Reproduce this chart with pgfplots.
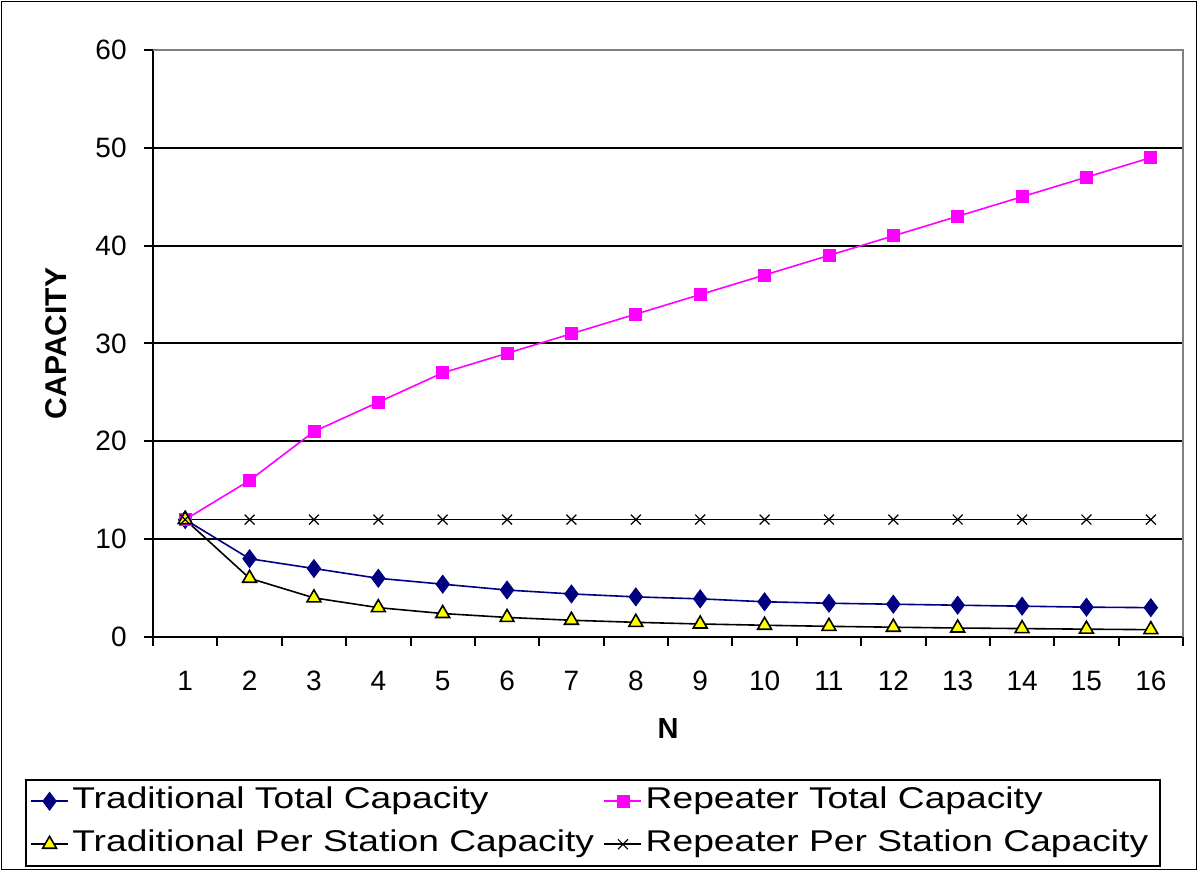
\documentclass[border=0pt]{standalone}
\usepackage{fontspec}
\setmainfont{Liberation Sans}
\newfontfamily\legfont{Liberation Sans}[FakeStretch=1.24]
\usepackage{pgfplots}
\usepackage{pgfplotstable}
\pgfplotsset{compat=1.18}
\definecolor{xnavy}{RGB}{0,0,128}
\definecolor{xmag}{RGB}{255,0,255}
\definecolor{xyel}{RGB}{255,255,0}
\definecolor{xgray}{RGB}{128,128,128}
\pgfplotstableread{
N TT RT TP RP
1 12 12 12 12
2 8 16 6 12
3 7 21 4 12
4 6 24 3 12
5 5.4 27 2.4 12
6 4.8 29 2 12
7 4.4 31 1.71 12
8 4.1 33 1.5 12
9 3.9 35 1.33 12
10 3.6 37 1.2 12
11 3.45 39 1.09 12
12 3.35 41 1 12
13 3.25 43 0.92 12
14 3.15 45 0.86 12
15 3.05 47 0.8 12
16 3.0 49 0.75 12
}\datatable
\begin{document}
\begin{tikzpicture}
\useasboundingbox (-76.5pt,-117pt) rectangle (522.5pt,318.5pt);
\draw[black, line width=0.8pt] (-75.8pt,-116.3pt) rectangle (521.8pt,317.8pt);
\begin{axis}[
  scale only axis,
  width=515pt, height=293.5pt,
  at={(0pt,0pt)}, anchor=origin,
  xmin=0.5, xmax=16.5, ymin=0, ymax=60,
  axis x line*=bottom, axis y line*=left,
  axis line style={black, line width=1pt},
  tick align=outside,
  xtick={0.5,1.5,...,16.5},
  xticklabels={},
  x tick style={black, line width=1pt},
  extra x ticks={1,2,...,16},
  extra x tick style={major tick length=0pt},
  ytick={0,10,...,60},
  y tick style={black, line width=1pt},
  major tick length=4.5pt,
  extra y ticks={10,20,30,40,50},
  extra y tick labels={},
  extra y tick style={grid=major, major grid style={black, line width=1pt}, major tick length=0pt},
  /pgf/number format/assume math mode=true,
  tick label style={font=\fontsize{14}{16}\selectfont},
  yticklabel style={inner sep=0pt, xshift=-8.5pt},
  xticklabel style={inner sep=0pt, yshift=-17pt},
  xlabel={\textbf{N}},
  ylabel={\textbf{CAPACITY}},
  every axis x label/.style={at={(axis description cs:0.5,-0.1567)}, anchor=center, font=\fontsize{14.5}{16}\selectfont},
  every axis y label/.style={at={(axis description cs:-0.0942,0.5)}, anchor=center, rotate=90, font=\fontsize{15}{16}\selectfont},
  legend columns=2,
  legend cell align=left,
  legend style={at={(axis description cs:-0.1243,-0.2419)}, anchor=north west,
    draw=black, line width=0.8pt, inner xsep=2.25pt, inner ysep=0pt,
    font=\legfont\fontsize{15}{17}\selectfont,
    nodes={inner xsep=1.75pt, inner ysep=0pt, text height=11pt, text depth=3.5pt, minimum height=21.5pt},
    /tikz/every even column/.append style={column sep=3pt}},
  legend image code/.code={\draw[mark repeat=2,mark phase=2,#1] plot coordinates {(0pt,0pt)(9.25pt,0pt)(18.5pt,0pt)};},
  after end axis/.code={\draw[xgray, line width=0.8pt] (rel axis cs:0,1) -- (rel axis cs:1,1) -- (rel axis cs:1,0);},
]
\addplot[xnavy, line width=0.8pt, mark=diamond*, mark size=4.5pt, mark options={fill=xnavy, draw=xnavy, line width=0.4pt}] table[x=N, y=TT] {\datatable};
\addlegendentry{Traditional Total Capacity}
\addplot[xmag, line width=0.8pt, mark=square*, mark size=3pt, mark options={fill=xmag, draw=xmag, line width=0.4pt}] table[x=N, y=RT] {\datatable};
\addlegendentry{Repeater Total Capacity\hspace*{2pt}}
\addplot[black, line width=0.8pt, mark=triangle*, mark size=4pt, mark options={fill=xyel, draw=black, line width=0.8pt}] table[x=N, y=TP] {\datatable};
\addlegendentry{Traditional Per Station Capacity}
\addplot[black, line width=0.8pt, mark=x, mark size=3.5pt, mark options={draw=black, line width=0.6pt}] table[x=N, y=RP] {\datatable};
\addlegendentry{Repeater Per Station Capacity\hspace*{2pt}}
\end{axis}
\end{tikzpicture}
\end{document}
